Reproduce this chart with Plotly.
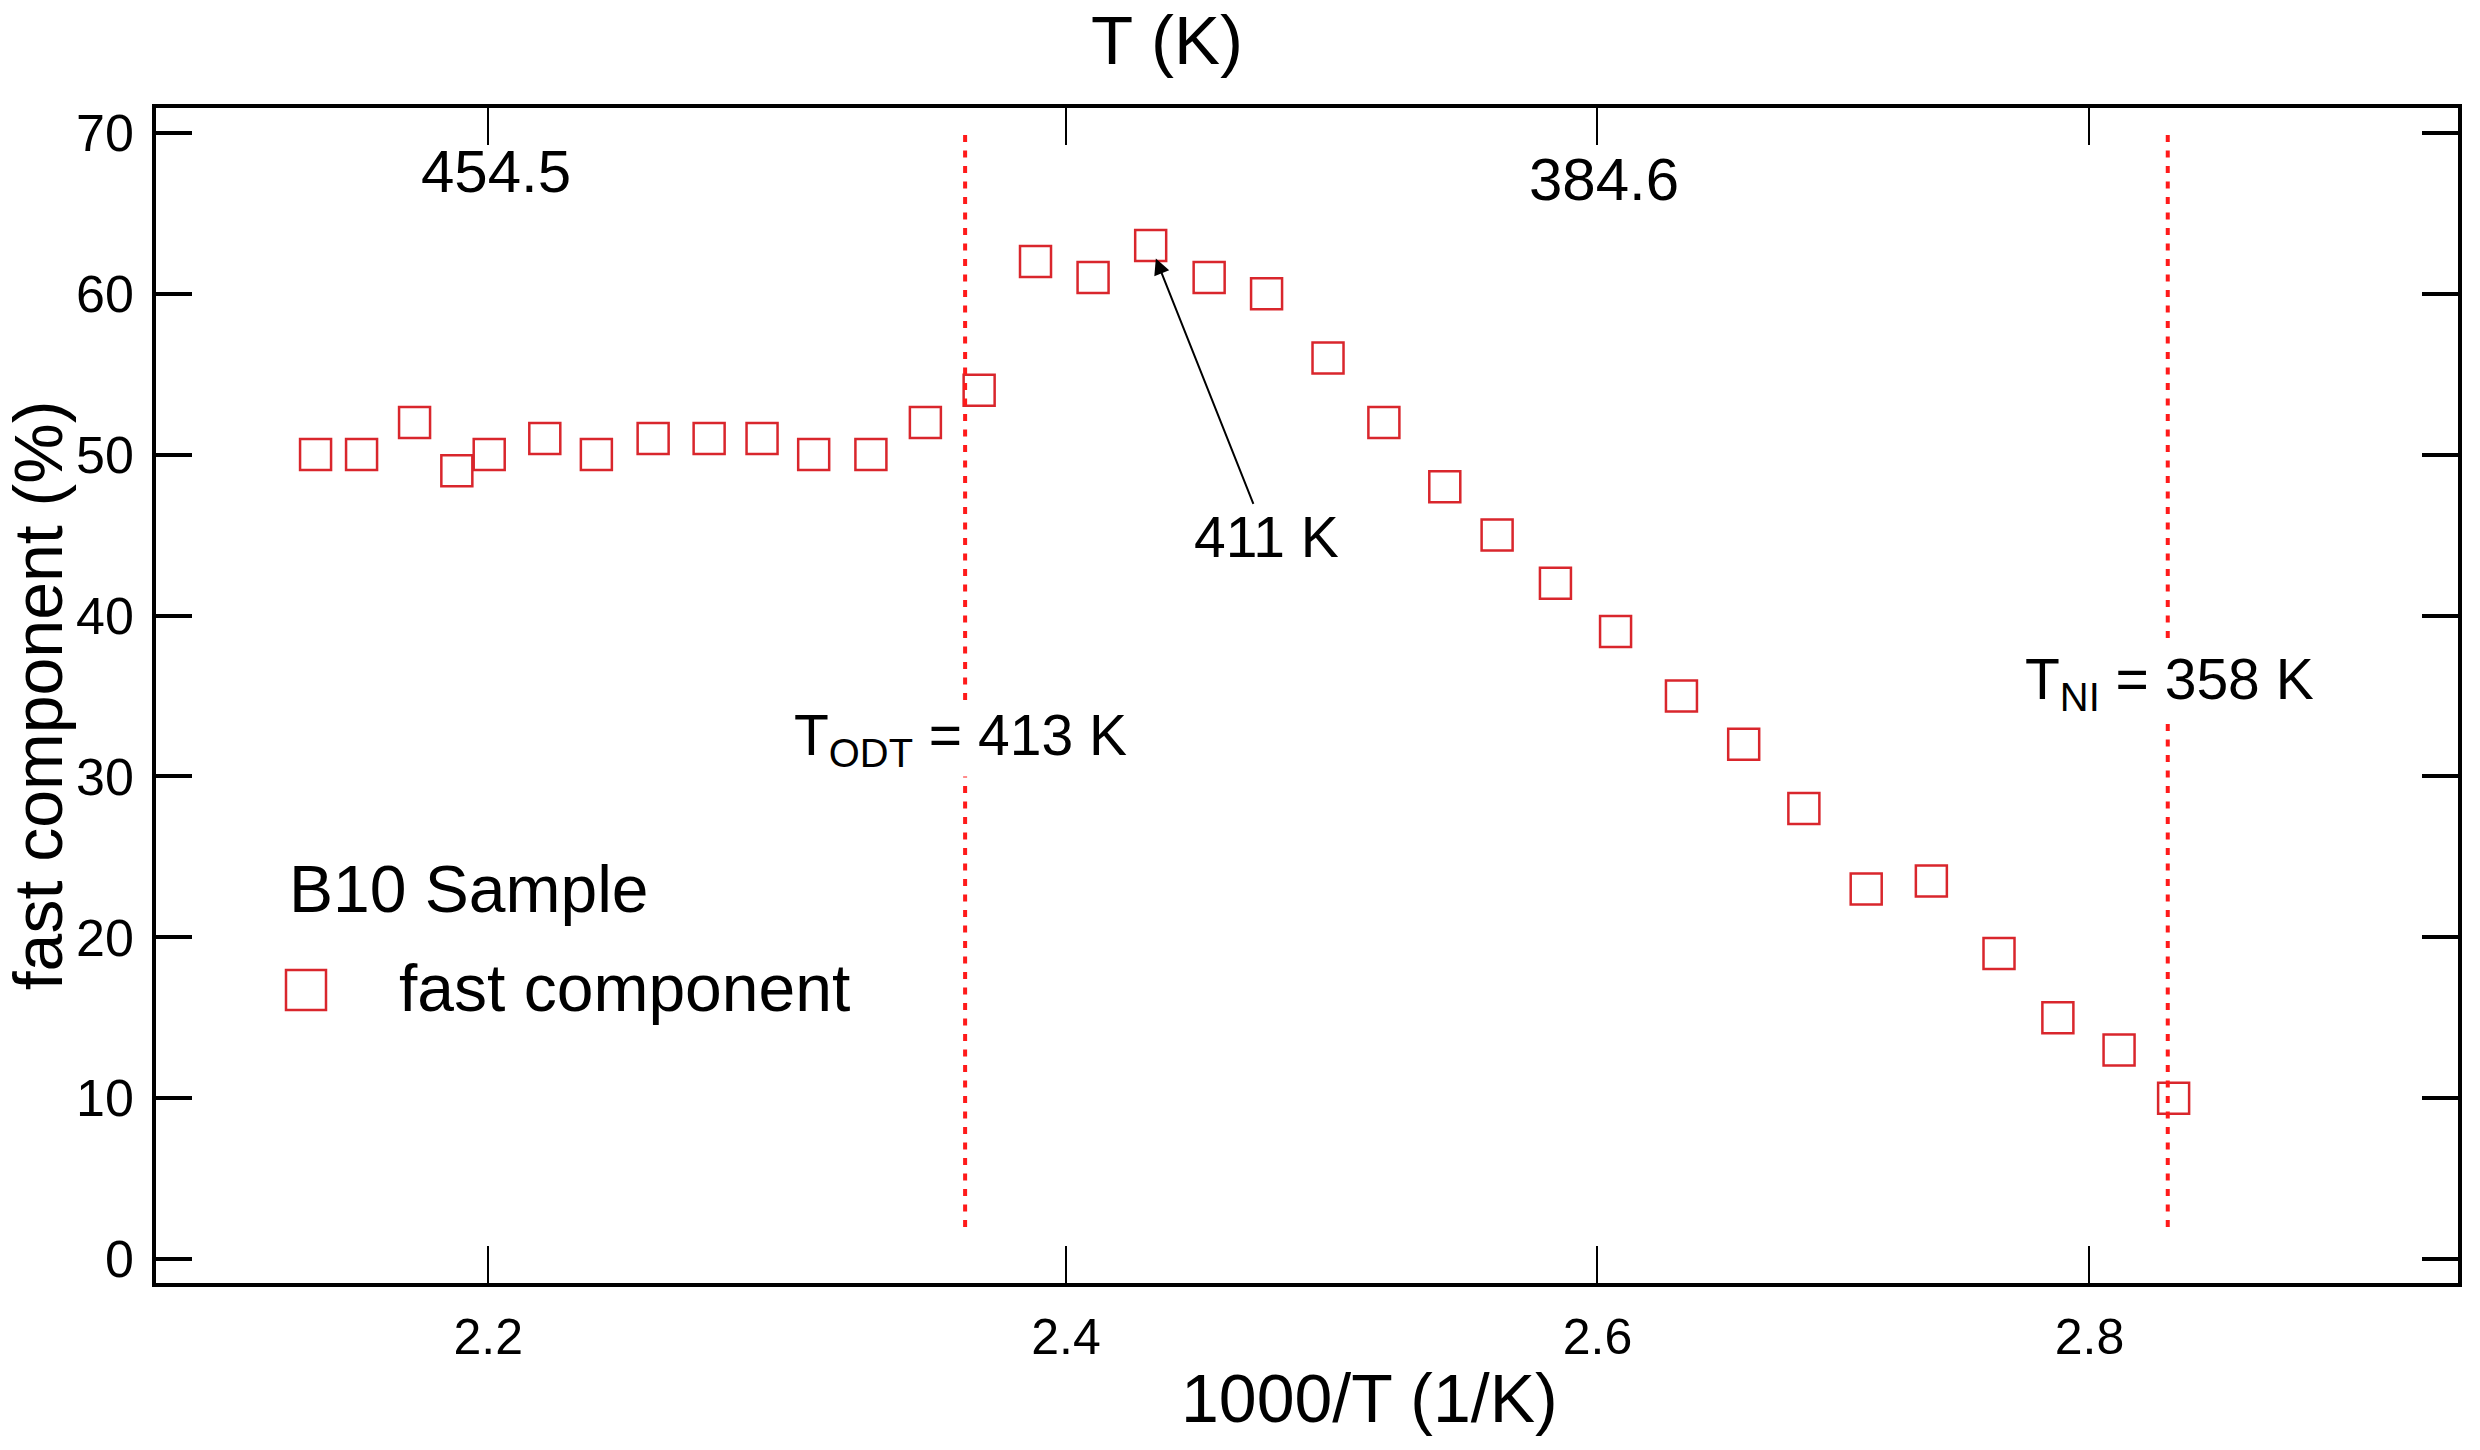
import math
import plotly.graph_objects as go

# ---------------- data ----------------
inv_T = [2.1435, 2.1584, 2.1757, 2.1896, 2.2003, 2.2188, 2.2361, 2.2553, 2.2744,
         2.2926, 2.3105, 2.3305, 2.3497, 2.3688, 2.3890, 2.4098, 2.4308, 2.4523,
         2.4736, 2.4966, 2.5177, 2.5409, 2.5610, 2.5836, 2.6071, 2.6331, 2.6579,
         2.6821, 2.7074, 2.7341, 2.7621, 2.7867, 2.8125, 2.8357]
fast_pct = [50, 50, 52, 49, 50, 51, 50, 51, 51,
            51, 50, 50, 52, 54, 62, 61, 63, 61,
            60, 56, 52, 48, 45, 42, 39, 35, 32,
            28, 23, 23.5, 19, 15, 13, 10]

x_tickvals = [2.2, 2.4, 2.6, 2.8]
x_ticktext = ["2.2", "2.4", "2.6", "2.8"]
top_label_pos = [2.2, 2.6]
top_label_text = ["454.5", "384.6"]
y_tickvals = [0, 10, 20, 30, 40, 50, 60, 70]

odt_x = [2.3638, 2.3638]
ni_x = [2.8332, 2.8332]
vline_y = [2, 70]

peak_index = 16
series_name = "fast component"
legend_title = "B10 Sample"

# ---------------- layout constants ----------------
W, H = 2480, 1450
L, R, T, B = 156, 22, 108, 167
PW, PH = W - L - R, H - T - B
x_range = [math.log10(2.0926), math.log10(2.9598)]
y_range = [-1.48, 71.54]
FONT = "Liberation Sans, Arial, sans-serif"
MARK_RED = "#d9262c"
LINE_RED = "#ff1a1a"


def pxx(px):
    return (px - L) / PW


def pxy(py):
    return (H - B - py) / PH


fig = go.Figure()

fig.add_trace(go.Scatter(
    x=inv_T, y=fast_pct, mode="markers", name=series_name,
    marker=dict(symbol="square-open", size=31, color=MARK_RED,
                line=dict(width=2.5, color=MARK_RED)),
    showlegend=False,
))

for xs in (odt_x, ni_x):
    fig.add_trace(go.Scatter(
        x=xs, y=vline_y, mode="lines", showlegend=False,
        line=dict(color=LINE_RED, width=4, dash="7px,8.5px"),
        hoverinfo="skip",
    ))

axis_common = dict(showgrid=False, zeroline=False, linecolor="black",
                   linewidth=3.5, tickcolor="black")

fig.update_layout(
    width=W, height=H,
    margin=dict(l=L, r=R, t=T, b=B, autoexpand=False),
    paper_bgcolor="white", plot_bgcolor="white",
    font=dict(family=FONT, color="black", size=50),
    xaxis=dict(type="log", range=x_range, tickvals=x_tickvals, ticktext=x_ticktext,
               ticks="inside", ticklen=37, tickwidth=2.2, mirror="ticks",
               showline=True, tickfont=dict(size=50), ticklabelstandoff=7,
               **axis_common),
    yaxis=dict(range=y_range, tickvals=y_tickvals, ticks="inside", ticklen=36,
               tickwidth=3.5, mirror="ticks", showline=True,
               tickfont=dict(size=52), ticklabelstandoff=8,
               title=dict(text="fast component (%)", font=dict(size=68), standoff=11),
               **axis_common),
    showlegend=False,
)

annotations = [
    dict(text="T (K)", xref="paper", yref="paper", x=pxx(1167), y=pxy(0),
         xanchor="center", yanchor="top", showarrow=False, font=dict(size=69)),
    dict(text="1000/T (1/K)", xref="paper", yref="paper", x=pxx(1369), y=pxy(1398),
         xanchor="center", yanchor="middle", showarrow=False, font=dict(size=68)),
    dict(text="411 K", x=math.log10(inv_T[peak_index]), y=fast_pct[peak_index],
         xref="x", yref="y", showarrow=True, arrowhead=2, arrowsize=1.6,
         arrowwidth=2, arrowcolor="black", ax=116, ay=292, standoff=14,
         font=dict(size=57)),
    dict(text="T<sub>ODT</sub> = 413 K", x=math.log10(odt_x[0]), y=32.3,
         xref="x", yref="y", xanchor="center", yanchor="middle", xshift=-5,
         showarrow=False, bgcolor="white", font=dict(size=57)),
    dict(text="T<sub>NI</sub> = 358 K", x=math.log10(ni_x[0]), y=35.8,
         xref="x", yref="y", xanchor="center", yanchor="middle", xshift=2,
         showarrow=False, bgcolor="white", font=dict(size=57)),
    # legend (title + entry)
    dict(text=legend_title, xref="paper", yref="paper", x=pxx(287), y=pxy(889),
         xanchor="left", yanchor="middle", showarrow=False, font=dict(size=66)),
    dict(text=series_name, xref="paper", yref="paper", x=pxx(397), y=pxy(988),
         xanchor="left", yanchor="middle", showarrow=False, font=dict(size=66)),
]
# top axis (T in K) labels, placed inside the frame
for pos, txt, yy, sh in zip(top_label_pos, top_label_text, [171, 180], [8, 7]):
    annotations.append(dict(text=txt, x=math.log10(pos), y=pxy(yy), xref="x",
                            yref="paper", xanchor="center", yanchor="middle",
                            xshift=sh, showarrow=False, font=dict(size=60)))
fig.update_layout(annotations=annotations)

# legend key symbol
fig.add_shape(type="rect", xref="paper", yref="paper",
              x0=pxx(286), x1=pxx(326), y0=pxy(1010), y1=pxy(970),
              line=dict(color=MARK_RED, width=2.5), fillcolor="rgba(0,0,0,0)")

fig.write_html("out.html")
